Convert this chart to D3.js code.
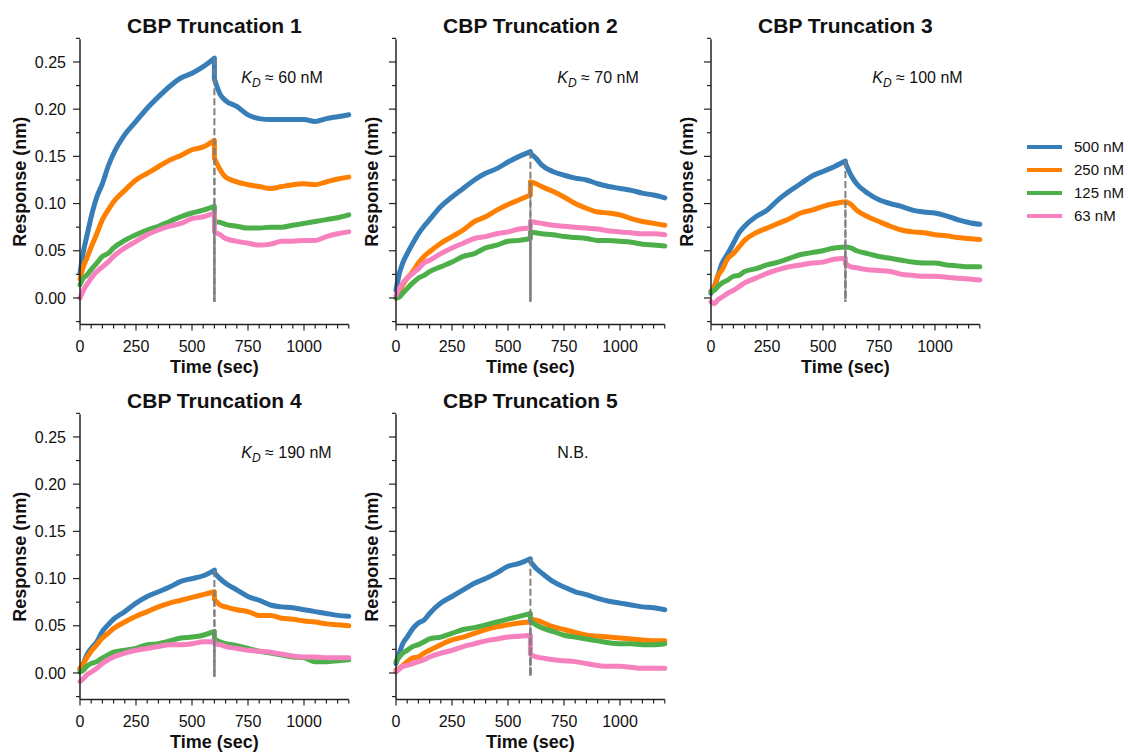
<!DOCTYPE html>
<html>
<head>
<meta charset="utf-8">
<script src="https://cdn.jsdelivr.net/npm/d3@7"></script>
<style>
  html, body { margin: 0; padding: 0; background: #fff; }
  svg { display: block; font-family: "Liberation Sans", Arial, Helvetica, sans-serif; }
</style>
</head>
<body>
<svg id="chart" width="1128" height="752"></svg>
<script>
// ---------------- DATA ----------------
const times = [0,15,30,50,75,100,125,150,200,250,300,350,400,450,500,550,600,
               600,625,650,700,750,800,850,900,950,1000,1050,1100,1150,1200];
const concentrations = ["500 nM", "250 nM", "125 nM", "63 nM"];
const panelTitles = ["CBP Truncation 1", "CBP Truncation 2", "CBP Truncation 3", "CBP Truncation 4", "CBP Truncation 5"];
const kdLabels = ["60 nM", "70 nM", "100 nM", "190 nM", "N.B."];
const xTickLabels = [0, 250, 500, 750, 1000];
const yTickLabels = [0.00, 0.05, 0.10, 0.15, 0.20, 0.25];

const trunc1_500 = [0.026,0.049,0.065,0.086,0.107,0.121,0.139,0.153,0.173,0.187,0.201,0.213,0.224,0.233,0.238,0.245,0.254,
                    0.232,0.216,0.209,0.203,0.194,0.190,0.189,0.189,0.189,0.189,0.187,0.190,0.192,0.194];
const trunc1_250 = [0.020,0.033,0.042,0.054,0.068,0.083,0.093,0.102,0.114,0.125,0.132,0.139,0.146,0.151,0.157,0.160,0.167,
                    0.148,0.136,0.128,0.123,0.120,0.118,0.116,0.118,0.120,0.121,0.120,0.123,0.126,0.128];
const trunc1_125 = [0.014,0.021,0.024,0.030,0.037,0.044,0.047,0.053,0.061,0.067,0.072,0.076,0.081,0.086,0.090,0.093,0.097,
                    0.081,0.080,0.078,0.076,0.074,0.074,0.075,0.075,0.077,0.079,0.081,0.083,0.085,0.088];
const trunc1_63  = [0.000,0.008,0.014,0.021,0.028,0.033,0.038,0.044,0.053,0.060,0.067,0.072,0.076,0.079,0.084,0.086,0.090,
                    0.070,0.067,0.063,0.060,0.058,0.056,0.057,0.060,0.060,0.061,0.061,0.065,0.068,0.070];

const trunc2_500 = [0.008,0.026,0.037,0.047,0.058,0.068,0.076,0.083,0.097,0.107,0.116,0.125,0.132,0.137,0.144,0.150,0.155,
                    0.153,0.148,0.141,0.134,0.130,0.127,0.125,0.121,0.118,0.116,0.114,0.111,0.109,0.106];
const trunc2_250 = [0.000,0.007,0.014,0.021,0.028,0.037,0.044,0.049,0.058,0.065,0.072,0.081,0.086,0.093,0.099,0.104,0.109,
                    0.123,0.121,0.118,0.113,0.107,0.100,0.095,0.091,0.090,0.088,0.084,0.081,0.079,0.077];
const trunc2_125 = [0.000,0.001,0.005,0.010,0.016,0.021,0.024,0.028,0.033,0.038,0.044,0.047,0.053,0.056,0.060,0.061,0.063,
                    0.070,0.069,0.068,0.067,0.065,0.064,0.063,0.061,0.061,0.060,0.059,0.057,0.056,0.055];
const trunc2_63  = [0.003,0.010,0.016,0.021,0.026,0.031,0.037,0.040,0.047,0.053,0.058,0.063,0.065,0.068,0.070,0.073,0.074,
                    0.081,0.080,0.079,0.077,0.076,0.075,0.074,0.073,0.071,0.070,0.069,0.068,0.068,0.067];

const trunc3_500 = [0.005,0.012,0.023,0.037,0.047,0.058,0.069,0.076,0.086,0.093,0.104,0.113,0.121,0.129,0.134,0.139,0.145,
                    0.143,0.130,0.121,0.111,0.104,0.100,0.097,0.093,0.091,0.090,0.087,0.083,0.080,0.078];
const trunc3_250 = [0.007,0.012,0.023,0.030,0.042,0.047,0.054,0.061,0.069,0.074,0.079,0.084,0.090,0.093,0.097,0.100,0.102,
                    0.102,0.099,0.093,0.086,0.081,0.076,0.072,0.070,0.069,0.067,0.066,0.064,0.063,0.062];
const trunc3_125 = [0.007,0.008,0.012,0.016,0.019,0.023,0.024,0.028,0.031,0.035,0.038,0.042,0.046,0.048,0.050,0.053,0.054,
                    0.054,0.053,0.050,0.047,0.044,0.042,0.040,0.038,0.037,0.037,0.035,0.034,0.033,0.033];
const trunc3_63  = [-0.004,-0.006,-0.002,0.001,0.005,0.008,0.012,0.016,0.021,0.026,0.030,0.033,0.035,0.037,0.038,0.041,0.042,
                    0.036,0.033,0.032,0.030,0.029,0.028,0.025,0.024,0.023,0.023,0.022,0.021,0.020,0.019];

const trunc4_500 = [0.004,0.010,0.019,0.026,0.033,0.044,0.051,0.057,0.065,0.074,0.081,0.086,0.091,0.097,0.100,0.103,0.109,
                    0.106,0.100,0.095,0.088,0.081,0.077,0.072,0.070,0.069,0.067,0.065,0.063,0.061,0.060];
const trunc4_250 = [0.005,0.010,0.016,0.023,0.030,0.037,0.042,0.047,0.054,0.060,0.065,0.070,0.074,0.077,0.080,0.083,0.086,
                    0.078,0.072,0.070,0.067,0.065,0.061,0.061,0.058,0.057,0.055,0.054,0.052,0.051,0.050];
const trunc4_125 = [0.001,0.003,0.007,0.010,0.012,0.016,0.019,0.022,0.024,0.026,0.030,0.031,0.034,0.037,0.038,0.040,0.044,
                    0.036,0.033,0.031,0.029,0.026,0.023,0.021,0.019,0.017,0.016,0.012,0.012,0.013,0.014];
const trunc4_63  = [-0.009,-0.006,-0.002,0.001,0.005,0.010,0.014,0.017,0.021,0.024,0.026,0.028,0.030,0.030,0.031,0.033,0.033,
                    0.031,0.030,0.028,0.026,0.024,0.023,0.022,0.020,0.018,0.017,0.017,0.016,0.016,0.016];

const trunc5_500 = [0.010,0.021,0.031,0.038,0.047,0.053,0.056,0.063,0.074,0.081,0.088,0.095,0.100,0.106,0.113,0.116,0.121,
                    0.118,0.111,0.106,0.097,0.091,0.086,0.083,0.079,0.076,0.074,0.072,0.070,0.069,0.067];
const trunc5_250 = [0.003,0.005,0.008,0.012,0.016,0.017,0.021,0.024,0.030,0.035,0.038,0.042,0.046,0.049,0.051,0.053,0.054,
                    0.057,0.056,0.054,0.049,0.046,0.043,0.040,0.039,0.038,0.037,0.036,0.035,0.034,0.034];
const trunc5_125 = [0.012,0.017,0.021,0.024,0.028,0.030,0.033,0.036,0.038,0.042,0.046,0.048,0.051,0.054,0.057,0.060,0.063,
                    0.055,0.051,0.048,0.044,0.040,0.038,0.036,0.034,0.032,0.031,0.031,0.030,0.030,0.031];
const trunc5_63  = [0.001,0.004,0.007,0.008,0.010,0.012,0.014,0.017,0.021,0.024,0.028,0.031,0.034,0.036,0.038,0.039,0.040,
                    0.020,0.017,0.016,0.014,0.013,0.012,0.010,0.008,0.007,0.007,0.006,0.005,0.005,0.005];

const panelSeries = [
  [trunc1_500, trunc1_250, trunc1_125, trunc1_63],
  [trunc2_500, trunc2_250, trunc2_125, trunc2_63],
  [trunc3_500, trunc3_250, trunc3_125, trunc3_63],
  [trunc4_500, trunc4_250, trunc4_125, trunc4_63],
  [trunc5_500, trunc5_250, trunc5_125, trunc5_63]
];

// ---------------- STYLE / LAYOUT ----------------
const colors = ["#377eb8", "#ff7f00", "#4daf4a", "#f781bf"];
const colX = [80, 396, 711];
const rowY = [0, 375];
const plotW = 268.8;
const yTopPx = 39.3, yBotPx = 324.4;
const switchTime = 600;
const nAssoc = 17; // number of association-phase samples in `times`

const svg = d3.select("#chart");

panelSeries.forEach((series, i) => {
  const col = i % 3, row = Math.floor(i / 3);
  const left = colX[col];
  const off = rowY[row];
  const x = d3.scaleLinear().domain([0, 1200]).range([left, left + plotW]);
  const y = d3.scaleLinear().domain([-0.028, 0.274]).range([yBotPx + off, yTopPx + off]);
  const g = svg.append("g");

  // series lines: association and dissociation phases, each smoothed, joined at the switch time
  const line = d3.line().x((d) => x(d[0])).y((d) => y(d[1])).curve(d3.curveMonotoneX);
  series.forEach((vals, k) => {
    const pts = times.map((t, j) => [t, vals[j]]);
    const a = line(pts.slice(0, nAssoc));
    const d = line(pts.slice(nAssoc)).replace(/^M/, "L");
    g.append("path")
      .attr("d", a + d)
      .attr("fill", "none")
      .attr("stroke", colors[k])
      .attr("stroke-width", 5)
      .attr("stroke-linejoin", "round")
      .attr("stroke-linecap", "round");
  });

  // vertical switch lines (one per series, dashed)
  series.forEach((vals, k) => {
    const top = Math.max(vals[nAssoc - 1], vals[nAssoc]);
    g.append("line")
      .attr("x1", x(switchTime)).attr("x2", x(switchTime))
      .attr("y1", y(top)).attr("y2", y(-0.004))
      .attr("stroke", "#808080")
      .attr("stroke-width", 2)
      .attr("stroke-dasharray", "7,3")
      .attr("stroke-dashoffset", k * 2.5);
  });

  // x axis
  const xMinor = d3.range(0, 1201, 50);
  const xAxisG = g.append("g").attr("transform", `translate(0,${yBotPx + off})`);
  xAxisG.append("line").attr("x1", left).attr("x2", left + plotW).attr("y1", 0).attr("y2", 0)
    .attr("stroke", "#222").attr("stroke-width", 1.5);
  xMinor.forEach((t) => {
    const major = xTickLabels.includes(t);
    xAxisG.append("line").attr("x1", x(t)).attr("x2", x(t)).attr("y1", 0).attr("y2", major ? 6 : 4)
      .attr("stroke", "#222").attr("stroke-width", 1.2);
  });
  xTickLabels.forEach((t) => {
    xAxisG.append("text").attr("x", x(t)).attr("y", 28)
      .attr("text-anchor", "middle").attr("font-size", 16).attr("fill", "#111").text(t);
  });
  g.append("text").attr("x", left + plotW / 2).attr("y", 373 + off)
    .attr("text-anchor", "middle").attr("font-size", 18).attr("font-weight", "bold").attr("fill", "#111")
    .text("Time (sec)");

  // y axis
  const yAxisG = g.append("g").attr("transform", `translate(${left},0)`);
  yAxisG.append("line").attr("x1", 0).attr("x2", 0).attr("y1", yTopPx + off).attr("y2", yBotPx + off)
    .attr("stroke", "#222").attr("stroke-width", 1.5);
  const yMinor = d3.range(-0.025, 0.2751, 0.025).map((v) => Math.round(v * 1000) / 1000);
  yMinor.forEach((v) => {
    const major = yTickLabels.some((m) => Math.abs(m - v) < 1e-6);
    yAxisG.append("line").attr("x1", major ? -7 : -4).attr("x2", 0).attr("y1", y(v)).attr("y2", y(v))
      .attr("stroke", "#222").attr("stroke-width", 1.2);
  });
  if (col === 0) {
    yTickLabels.forEach((v) => {
      yAxisG.append("text").attr("x", -14).attr("y", y(v)).attr("dy", "0.35em")
        .attr("text-anchor", "end").attr("font-size", 16).attr("fill", "#111").text(v.toFixed(2));
    });
  }
  const ylabX = col === 0 ? 26 : left - 18;
  g.append("text")
    .attr("transform", `translate(${ylabX},${(yTopPx + yBotPx) / 2 + off}) rotate(-90)`)
    .attr("text-anchor", "middle").attr("font-size", 18).attr("font-weight", "bold").attr("fill", "#111")
    .text("Response (nm)");

  // title
  g.append("text").attr("x", left + plotW / 2).attr("y", 33 + off)
    .attr("text-anchor", "middle").attr("font-size", 21).attr("font-weight", "bold").attr("fill", "#111")
    .text(panelTitles[i]);

  // KD annotation
  const ann = g.append("text").attr("x", x(720)).attr("y", y(0.228))
    .attr("font-size", 16).attr("fill", "#111");
  if (kdLabels[i] === "N.B.") {
    ann.text("N.B.");
  } else {
    ann.append("tspan").attr("font-style", "italic").text("K");
    ann.append("tspan").attr("font-style", "italic").attr("font-size", 12).attr("dy", 4).text("D");
    ann.append("tspan").attr("dy", -4).text(" \u2248 " + kdLabels[i]);
  }
});

// legend
const legend = svg.append("g");
concentrations.forEach((c, k) => {
  const ly = 147 + k * 23;
  legend.append("line").attr("x1", 1027).attr("x2", 1062).attr("y1", ly).attr("y2", ly)
    .attr("stroke", colors[k]).attr("stroke-width", 4);
  legend.append("text").attr("x", 1074).attr("y", ly).attr("dy", "0.35em")
    .attr("font-size", 15).attr("fill", "#111").text(c);
});
</script>
</body>
</html>
